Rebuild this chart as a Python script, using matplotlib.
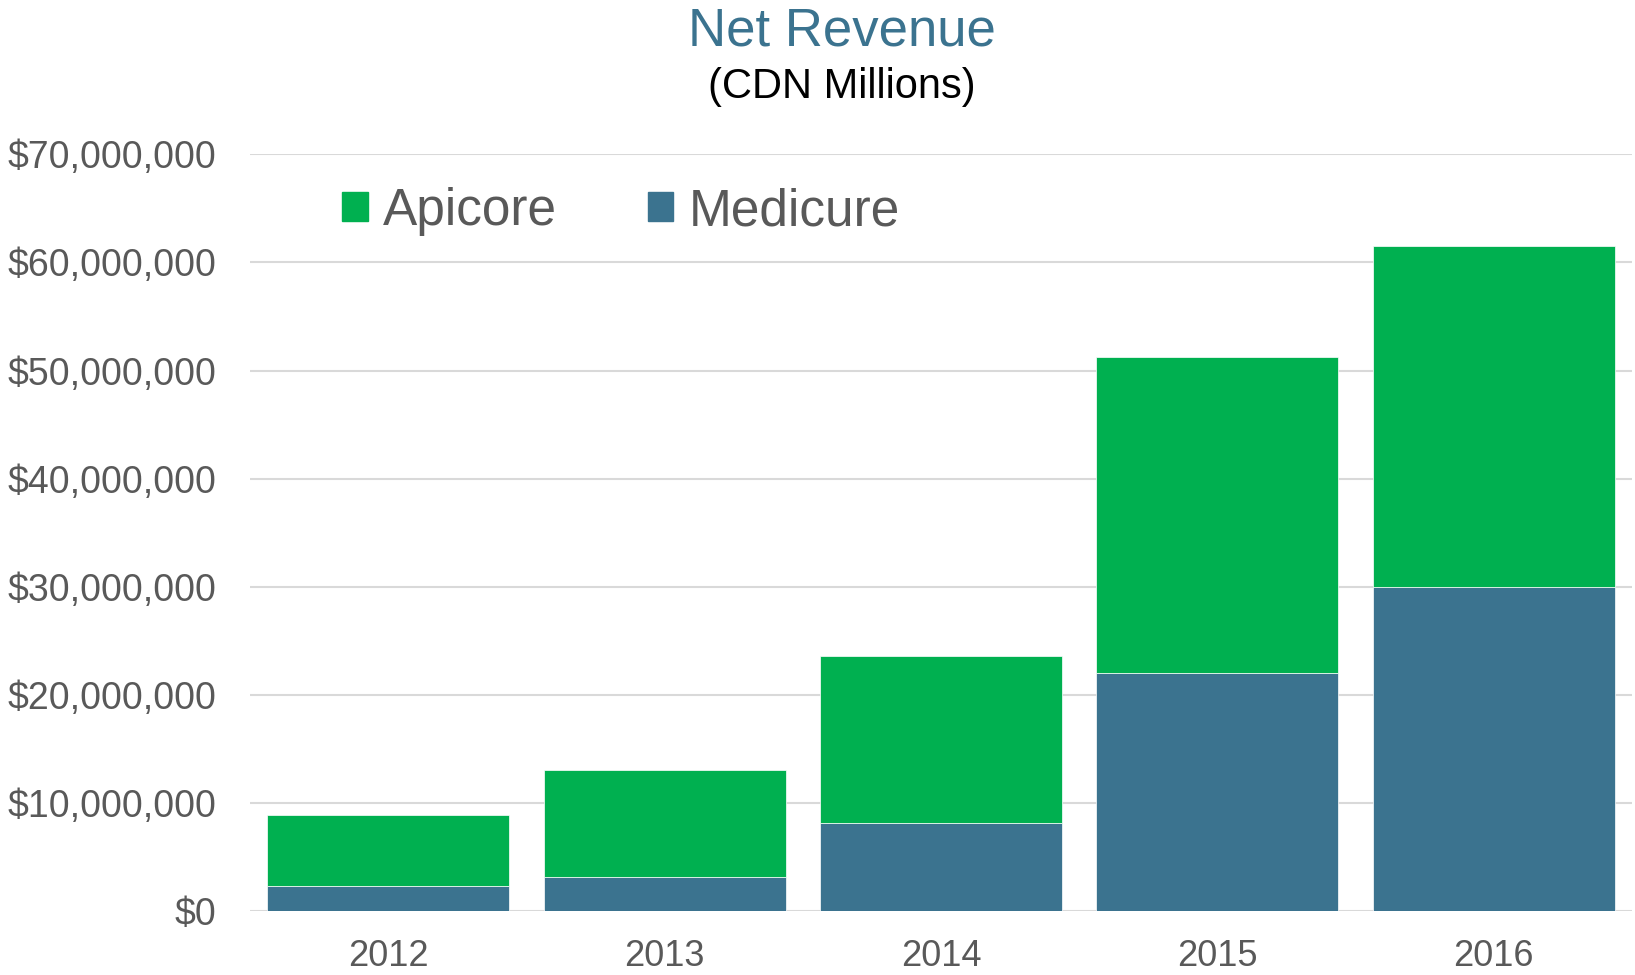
import matplotlib
matplotlib.use('Agg')
import matplotlib.pyplot as plt
from matplotlib.ticker import FuncFormatter
from matplotlib.patches import Patch

plt.rcParams['font.family'] = ['Liberation Sans', 'DejaVu Sans']

# data
years = ['2012', '2013', '2014', '2015', '2016']
medicure = [2.3e6, 3.2e6, 8.2e6, 22.0e6, 30.0e6]
apicore_total = [8.87e6, 13.1e6, 23.6e6, 51.3e6, 61.5e6]
apicore = [t - m for t, m in zip(apicore_total, medicure)]

green = '#00B050'
blue = '#3B738F'
grey = '#595959'

fig = plt.figure(figsize=(16.35, 9.75), dpi=100)
ax = fig.add_axes([250 / 1635, 1 - 911.3 / 975, (1632 - 250) / 1635, (911.3 - 154.3) / 975])

x = range(len(years))
ax.bar(x, medicure, width=0.875, color=blue, edgecolor='white', linewidth=0.5, zorder=3)
ax.bar(x, apicore, width=0.875, bottom=medicure, color=green, edgecolor='white', linewidth=0.5, zorder=3)

ax.set_xlim(-0.5, 4.5)
ax.set_ylim(0, 70e6)
ax.set_yticks([i * 10e6 for i in range(8)])
ax.yaxis.set_major_formatter(FuncFormatter(lambda v, p: '\\$' + format(int(v), ',')))
ax.set_xticks(list(x))
ax.set_xticklabels(years)

ax.tick_params(axis='y', length=0, pad=24, labelsize=27, labelcolor=grey)
ax.tick_params(axis='x', length=0, pad=20, labelsize=26, labelcolor=grey)
ax.grid(axis='y', color='#D9D9D9', linewidth=1.5, zorder=0)
for s in ax.spines.values():
    s.set_visible(False)

fig.text(842 / 1635, 1 - 31 / 975, 'Net Revenue', ha='center', va='center', fontsize=38, color=blue)
fig.text(842 / 1635, 1 - 87 / 975, '(CDN Millions)', ha='center', va='center', fontsize=30, color='black')

handles = [Patch(color=green, label='Apicore'), Patch(color=blue, label='Medicure')]
leg = ax.legend(handles=handles, loc='center left', bbox_to_anchor=(342 / 1635, 1 - 211.5 / 975),
                bbox_transform=fig.transFigure, ncol=2, frameon=False, fontsize=37,
                handlelength=0.5, handleheight=0.5, handletextpad=0.3, columnspacing=1.76,
                borderpad=0, borderaxespad=0)
for t in leg.get_texts():
    t.set_color(grey)

fig.savefig('out.png', dpi=100)
